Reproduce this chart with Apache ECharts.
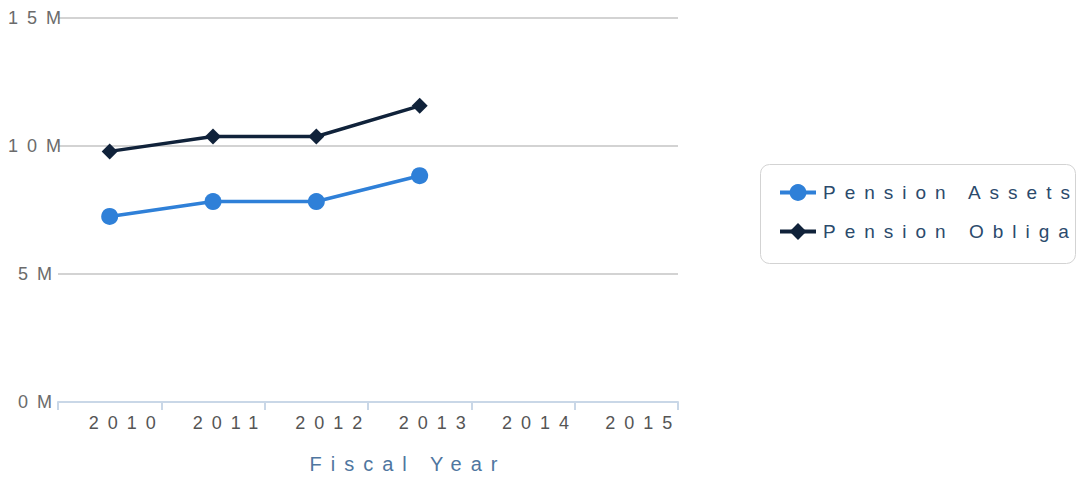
<!DOCTYPE html>
<html>
<head>
<meta charset="utf-8">
<script src="https://cdn.jsdelivr.net/npm/echarts@6/dist/echarts.min.js"></script>
<style>
  html, body { margin: 0; padding: 0; background: #fff; }
  #chart { width: 1077px; height: 479px; }
  /* spaced-out lettering like the original */
  #chart text { letter-spacing: 9px; }
</style>
</head>
<body>
<div id="chart"></div>
<script>
// 财年
var years = ['2010', '2011', '2012', '2013', '2014', '2015']
// 养老金资产 / 养老金负债 (单位: 元)
var pensionAssets = [7.25e6, 7.83e6, 7.83e6, 8.84e6]
var pensionObligations = [9.79e6, 10.37e6, 10.37e6, 11.57e6]
// Y轴刻度
var yTicks = [0, 5e6, 10e6, 15e6]

var fontFamily = '"Liberation Sans", Arial, sans-serif'
var chart = echarts.init(document.getElementById('chart'), null, { renderer: 'svg' })

var options = {
  animation: false,
  textStyle: { fontFamily: fontFamily },
  grid: {
    left: 58,
    right: 399,
    top: 18,
    bottom: 76
  },
  legend: {
    orient: 'vertical',
    left: 773,
    top: 178,
    itemWidth: 36,
    itemHeight: 21,
    itemGap: 20,
    lineStyle: { width: 4 },
    textStyle: {
      fontSize: 19,
      color: '#2b4a6c',
      padding: [0, 0, 0, 2]
    },
    data: ['Pension Assets', 'Pension Obligations']
  },
  // 图例边框
  graphic: [{
    type: 'rect',
    left: 758,
    top: 162,
    shape: { width: 315, height: 99, r: 9 },
    style: { fill: 'none', stroke: '#d3d3d3', lineWidth: 1 },
    silent: true
  }],
  xAxis: {
    type: 'category',
    data: years,
    boundaryGap: true,
    name: 'Fiscal Year',
    nameLocation: 'middle',
    nameGap: 52,
    nameTextStyle: {
      fontSize: 20,
      color: '#4f76a0',
      padding: [0, 0, 0, 80]
    },
    axisLine: { lineStyle: { color: '#c9d7e7', width: 2 } },
    axisTick: { show: true, length: 8, lineStyle: { color: '#c9d7e7', width: 2 } },
    axisLabel: {
      fontSize: 18,
      color: '#555555',
      margin: 12,
      padding: [0, 0, 0, 34]
    }
  },
  yAxis: {
    type: 'value',
    min: 0,
    max: 15e6,
    interval: 5e6,
    axisLine: { show: false },
    axisTick: { show: false },
    axisLabel: {
      margin: 15,
      formatter: function (v) {
        return yTicks.indexOf(v) >= 0 ? '{t|' + (v / 1e6) + 'M}' : ''
      },
      rich: {
        t: { fontSize: 18, color: '#6b6b6b', align: 'left', fontFamily: fontFamily }
      }
    },
    splitLine: { lineStyle: { color: '#c4c4c4', width: 1.5 } }
  },
  series: [
    {
      name: 'Pension Assets',
      type: 'line',
      data: pensionAssets,
      color: '#2f80d8',
      symbol: 'circle',
      symbolSize: 17,
      lineStyle: { width: 3.5 }
    },
    {
      name: 'Pension Obligations',
      type: 'line',
      data: pensionObligations,
      color: '#10223a',
      symbol: 'diamond',
      symbolSize: 16,
      lineStyle: { width: 3.5 }
    }
  ]
}
chart.setOption(options, true)
</script>
</body>
</html>
